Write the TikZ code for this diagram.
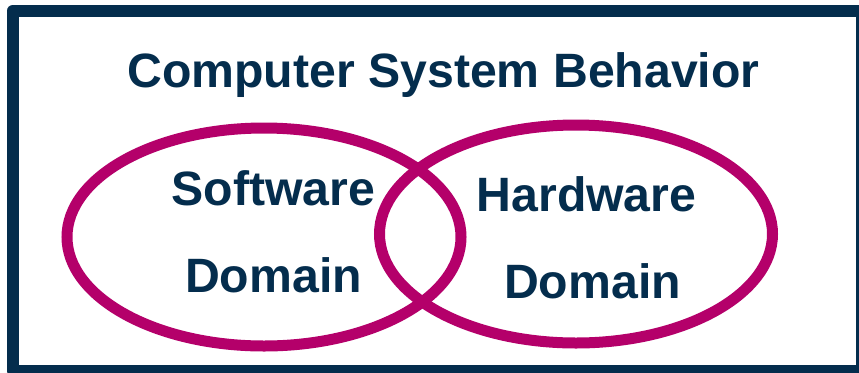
\documentclass[tikz,border=0pt]{standalone}
\usepackage{fontspec}
\setmainfont{Liberation Sans}
\definecolor{navy}{RGB}{4,45,77}
\definecolor{berry}{RGB}{180,0,106}
\begin{document}
\begin{tikzpicture}[x=1bp,y=-1bp,
  frame/.style={draw=navy,line width=12bp,line join=round},
  domainring/.style={draw=berry,line width=11bp},
  labeltext/.style={text=navy,font=\fontsize{48.2bp}{58bp}\selectfont\bfseries,inner sep=0pt,anchor=base}]
  \useasboundingbox (0,0) rectangle (859,372);
  \clip (0,0) rectangle (859,372);
  \fill[white] (0,0) rectangle (859,372);
  % outer frame
  \draw[frame] (13,10.5) rectangle (862,371);
  % title
  \node[labeltext] (title) at (443.5,87) {Computer System Behavior};
  % the two overlapping domains
  \draw[domainring] (264,237) ellipse [x radius=197, y radius=109];
  \draw[domainring] (576,234) ellipse [x radius=196.5, y radius=109];
  % domain labels
  \node[labeltext] (sw) at (273.5,205) {Software};
  \node[labeltext] (swd) at (273.5,292) {Domain};
  \node[labeltext] (hw) at (586.5,211) {Hardware};
  \node[labeltext] (hwd) at (592.5,298) {Domain};
\end{tikzpicture}
\end{document}
